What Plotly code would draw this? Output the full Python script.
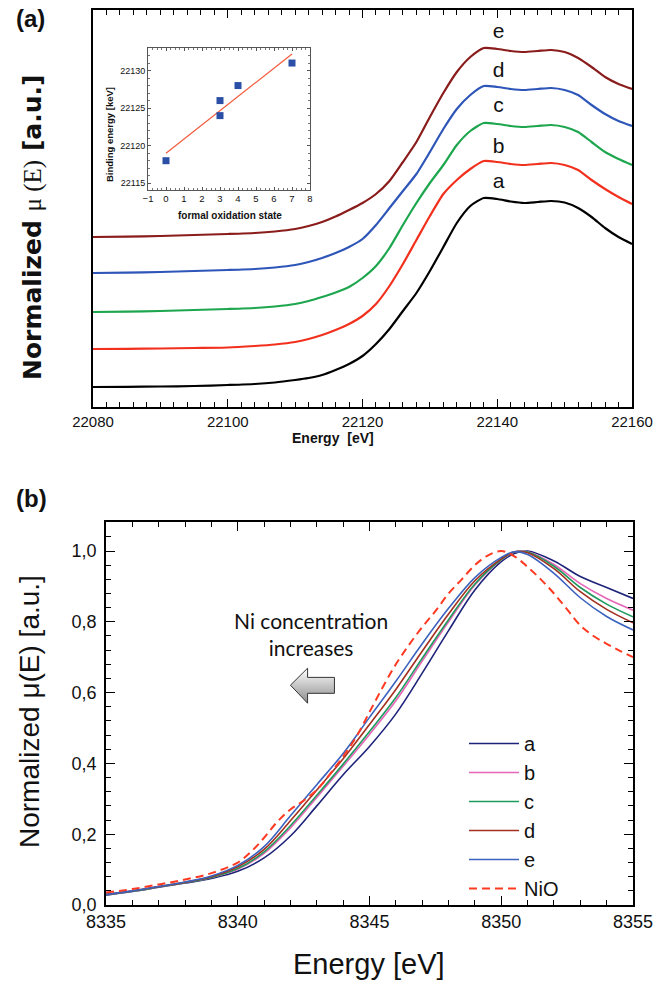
import plotly.graph_objects as go

W, H = 654, 984

# ---------------- panel (a): offset XANES spectra ----------------
energy_top = [22080, 22085, 22090, 22095, 22100, 22104, 22107, 22110, 22112, 22114, 22116,
              22118, 22120, 22122, 22124, 22126, 22128, 22130, 22132, 22134, 22136, 22138,
              22140, 22142, 22144, 22146, 22148, 22150, 22152, 22154, 22156, 22158, 22160]
top_a = [20, 20.2, 20.5, 21, 22, 23, 24.5, 27, 29, 32, 37, 43, 51, 63, 78, 96, 114, 136, 160,
         184, 201, 209, 208, 205.5, 204, 205, 206, 204.5, 199, 190, 179, 170, 163]
top_b = [58, 58.2, 58.5, 59, 59.5, 61, 62.5, 65, 68, 72, 77, 83, 91, 103, 121, 143, 167, 191,
         213, 227, 238, 246, 245, 243, 242, 243, 244, 242, 237, 227, 218, 210, 203]
top_c = [95, 95.3, 96, 97, 98, 99, 100.5, 103, 106, 110, 114.5, 120, 129, 141, 159, 182, 204,
         224, 242, 262, 276, 284, 283, 281, 280, 281, 282, 280, 275, 265, 255, 248, 242]
top_d = [134, 134.4, 135, 136, 137, 138, 139.5, 142, 145, 149, 154, 160, 168, 182, 199, 216,
         233, 255, 278, 298, 312, 321, 320, 318, 317, 318, 319, 317, 312, 302, 293, 286, 281]
top_e = [170, 170.4, 171, 172, 173, 174, 175.5, 178, 181, 185, 190.5, 197, 204, 213, 226, 245,
         265, 290, 314, 335, 350, 359, 358, 356, 355, 356, 357, 355, 349, 340, 330, 323, 318]
top_names = ["a", "b", "c", "d", "e"]
top_colors = ["#000000", "#F2301E", "#1DA64E", "#2E55B8", "#8A1C1C"]
top_label_energy = 22140.2
top_label_heights = [224, 259, 300, 335, 374]

# inset: binding energy vs formal oxidation state
ox_state = [0, 3, 3, 4, 7]
bind_energy = [22118, 22126, 22124, 22128, 22131]
fit_x = [0, 7]
fit_y = [22119.0, 22132.2]

# ---------------- panel (b): normalized spectra ----------------
energy_b = [8335, 8336, 8337, 8338, 8339, 8340, 8341, 8342, 8343, 8344, 8345, 8346, 8347,
            8348, 8349, 8350, 8350.5, 8351, 8352, 8353, 8354, 8355]
mu_a = [0.028, 0.038, 0.050, 0.062, 0.075, 0.095, 0.133, 0.195, 0.280, 0.368, 0.448, 0.540,
        0.655, 0.775, 0.890, 0.970, 0.993, 1.000, 0.972, 0.928, 0.897, 0.866]
mu_b = [0.029, 0.039, 0.051, 0.063, 0.078, 0.101, 0.146, 0.218, 0.304, 0.392, 0.482, 0.577,
        0.689, 0.800, 0.904, 0.975, 0.997, 0.998, 0.962, 0.908, 0.866, 0.833]
mu_c = [0.029, 0.039, 0.051, 0.063, 0.078, 0.103, 0.150, 0.224, 0.310, 0.398, 0.490, 0.586,
        0.697, 0.806, 0.907, 0.976, 0.997, 0.997, 0.957, 0.897, 0.850, 0.814]
mu_d = [0.030, 0.040, 0.052, 0.064, 0.080, 0.108, 0.157, 0.238, 0.325, 0.413, 0.510, 0.609,
        0.717, 0.822, 0.916, 0.978, 0.998, 0.995, 0.950, 0.885, 0.835, 0.797]
mu_e = [0.030, 0.040, 0.052, 0.065, 0.082, 0.112, 0.165, 0.252, 0.340, 0.428, 0.530, 0.632,
        0.738, 0.838, 0.925, 0.982, 0.998, 0.990, 0.937, 0.868, 0.815, 0.777]
energy_nio = [8335, 8336, 8337, 8338, 8339, 8340, 8340.5, 8341, 8341.5, 8342, 8342.5, 8343,
              8343.5, 8344, 8344.5, 8345, 8345.5, 8346, 8346.5, 8347, 8347.5, 8348, 8348.5,
              8349, 8349.5, 8350, 8350.5, 8351, 8351.5, 8352, 8352.5, 8353, 8353.5, 8354,
              8354.5, 8355]
mu_nio = [0.035, 0.045, 0.058, 0.072, 0.090, 0.120, 0.150, 0.190, 0.235, 0.270, 0.295, 0.325,
          0.370, 0.420, 0.475, 0.545, 0.615, 0.680, 0.735, 0.785, 0.830, 0.880, 0.920, 0.960,
          0.988, 1.000, 0.985, 0.955, 0.920, 0.880, 0.835, 0.790, 0.760, 0.738, 0.718, 0.700]
bot_names = ["a", "b", "c", "d", "e"]
bot_colors = ["#1E237A", "#E666B8", "#1E9A5E", "#A2301F", "#3A62BE"]
nio_color = "#FF3A22"
y_ticks_b = [0, 0.2, 0.4, 0.6, 0.8, 1.0]
y_ticktext_b = ["0,0", "0,2", "0,4", "0,6", "0,8", "1,0"]

# grey arrow ("Ni concentration increases") outline in data units of panel (b)
arrow_x = [8342.0, 8342.65, 8342.65, 8343.67, 8343.67, 8342.65, 8342.65, 8342.0]
arrow_y = [0.621, 0.669, 0.643, 0.643, 0.598, 0.598, 0.570, 0.621]


def px(x):
    return x / W


def py(y):
    return 1 - y / H


fig = go.Figure()

# panel (a) curves
for name, col, ys in zip(top_names, top_colors, [top_a, top_b, top_c, top_d, top_e]):
    fig.add_trace(go.Scatter(x=energy_top, y=ys, mode="lines",
                             line=dict(color=col, width=2.2, shape="spline", smoothing=0.6),
                             showlegend=False, xaxis="x", yaxis="y"))
fig.add_trace(go.Scatter(x=[top_label_energy] * 5, y=top_label_heights, mode="text",
                         text=top_names, textfont=dict(size=21, family="Liberation Sans", color="#111"),
                         showlegend=False, xaxis="x", yaxis="y"))

# inset
fig.add_trace(go.Scatter(x=fit_x, y=fit_y, mode="lines", line=dict(color="#F25A3C", width=1.2),
                         showlegend=False, xaxis="x3", yaxis="y3"))
fig.add_trace(go.Scatter(x=ox_state, y=bind_energy, mode="markers",
                         marker=dict(symbol="square", size=7, color="#2B4FA6"),
                         showlegend=False, xaxis="x3", yaxis="y3"))

# panel (b) curves
for name, col, ys in zip(bot_names, bot_colors, [mu_a, mu_b, mu_c, mu_d, mu_e]):
    fig.add_trace(go.Scatter(x=energy_b, y=ys, mode="lines", name=name,
                             line=dict(color=col, width=1.6), line_shape="spline",
                             xaxis="x2", yaxis="y2"))
fig.add_trace(go.Scatter(x=energy_nio, y=mu_nio, mode="lines", name="NiO",
                         line=dict(color=nio_color, width=2, dash="8px,5px"), line_shape="spline",
                         xaxis="x2", yaxis="y2"))
fig.add_trace(go.Scatter(x=arrow_x, y=arrow_y, mode="lines", fill="toself",
                         line=dict(color="#333333", width=1),
                         fillgradient=dict(type="vertical",
                                           colorscale=[[0, "#8c8c8c"], [1, "#ffffff"]]),
                         showlegend=False, hoverinfo="skip", xaxis="x2", yaxis="y2"))

axis_common = dict(showline=True, linecolor="#000", linewidth=1.5, ticks="inside",
                   tickcolor="#000", showgrid=False, zeroline=False, automargin=False)

fig.update_layout(
    width=W, height=H, margin=dict(l=0, r=0, t=0, b=0, autoexpand=False),
    paper_bgcolor="white", plot_bgcolor="white",
    font=dict(family="Liberation Sans, Arial, sans-serif", color="#111"),
    xaxis=dict(domain=[px(93), px(632)], anchor="y", range=[22080, 22160], dtick=20,
               tick0=22080, tickformat="d", ticklen=8, tickwidth=1.3, mirror="ticks",
               minor=dict(dtick=2, ticklen=5, ticks="inside", tickcolor="#000"),
               tickfont=dict(size=15), **axis_common),
    yaxis=dict(domain=[py(407), py(10)], anchor="x", range=[0, 397], showticklabels=False,
               showline=True, linecolor="#000", linewidth=1.5, mirror=True, ticks="",
               showgrid=False, zeroline=False, automargin=False),
    xaxis2=dict(domain=[px(106), px(633)], anchor="y2", range=[8335, 8355], dtick=5,
                tick0=8335, tickformat="d", ticklen=9, tickwidth=1.3, mirror="ticks",
                minor=dict(dtick=1, ticklen=5, ticks="inside", tickcolor="#000"),
                tickfont=dict(size=18), **axis_common),
    yaxis2=dict(domain=[py(905), py(522)], anchor="x2", range=[0, 1.082],
                tickvals=y_ticks_b, ticktext=y_ticktext_b, ticklen=9, tickwidth=1.3,
                mirror="ticks", minor=dict(dtick=0.04, ticklen=5, ticks="inside", tickcolor="#000"),
                tickfont=dict(size=18), ticklabelstandoff=4, **axis_common),
    xaxis3=dict(domain=[px(148), px(310)], anchor="y3", range=[-1, 8], dtick=1,
                showline=True, linecolor="#555", linewidth=1, mirror="ticks", ticks="inside",
                ticklen=3, tickcolor="#555", showgrid=False, zeroline=False, automargin=False,
                minor=dict(dtick=0.25, ticklen=2, ticks="inside", tickcolor="#777"),
                tickfont=dict(size=9.5)),
    yaxis3=dict(domain=[py(190), py(48)], anchor="x3", range=[22114.1, 22133.0],
                tickvals=[22115, 22120, 22125, 22130], tickformat="d",
                showline=True, linecolor="#555", linewidth=1, mirror="ticks", ticks="inside",
                ticklen=3, tickcolor="#555", showgrid=False, zeroline=False, automargin=False,
                minor=dict(dtick=1, ticklen=2, ticks="inside", tickcolor="#777"),
                tickfont=dict(size=9)),
    legend=dict(x=px(464), y=py(724), xanchor="left", yanchor="top",
                font=dict(size=20, family="Liberation Sans, Arial"), itemwidth=50,
                bgcolor="rgba(0,0,0,0)", tracegroupgap=0),
)

ann = []
ann.append(dict(text="<b>(a)</b>", x=px(30), y=py(19), font=dict(size=24)))
ann.append(dict(text="<b>(b)</b>", x=px(31), y=py(498), font=dict(size=24)))
ann.append(dict(text="<b>Normalized </b><span style='font-family:Liberation Serif'>μ (E)</span><b> [a.u.]</b>",
                x=px(33), y=py(228), textangle=-90, font=dict(size=25, family="DejaVu Sans")))
ann.append(dict(text="<b>Energy</b>  <b>[eV]</b>", x=px(333), y=py(438), font=dict(size=14)))
ann.append(dict(text="Normalized μ(E) [a.u.]", x=px(29), y=py(712), textangle=-90,
                font=dict(size=28)))
ann.append(dict(text="Energy [eV]", x=px(369), y=py(964), font=dict(size=29)))
ann.append(dict(text="Ni concentration<br>increases", x=px(311), y=py(634),
                font=dict(size=21, family="Lato")))
ann.append(dict(text="<b>Binding energy [keV]</b>", x=px(109), y=py(135), textangle=-90,
                font=dict(size=9.5)))
ann.append(dict(text="<b>formal oxidation state</b>", x=px(230), y=py(215), font=dict(size=10)))
for a in ann:
    a.update(xref="paper", yref="paper", showarrow=False, xanchor="center", yanchor="middle")
fig.update_layout(annotations=ann)

fig.write_html("out.html")
